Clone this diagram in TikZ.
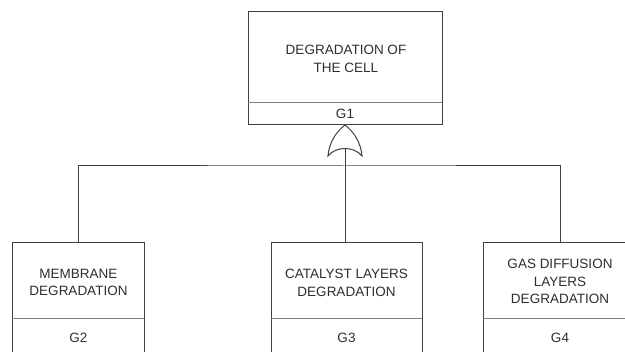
\documentclass[tikz,border=0pt]{standalone}
\usepackage{fontspec}
\setmainfont{Liberation Sans}
\definecolor{linec}{HTML}{404040}
\definecolor{divc}{HTML}{808080}
\definecolor{txtc}{HTML}{2E2E2E}
\begin{document}
\begin{tikzpicture}[x=1pt,y=-1pt,
  box/.style={draw=linec, line width=1pt, inner sep=0pt, outer sep=0pt, fill=none},
  div/.style={draw=divc, line width=0.9pt},
  conn/.style={draw=linec, line width=1pt},
  lbl/.style={text=txtc, font=\fontsize{13.5}{17.8}\selectfont, align=center, inner sep=0pt}]
\useasboundingbox (0,0) rectangle (625,352);
\clip (0,0) rectangle (625,352);
\fill[white] (0,0) rectangle (625,352);

% boxes
\node[box, minimum width=194pt, minimum height=113pt] (top) at (345,68.5) {};
\node[box, minimum width=132pt, minimum height=137pt] (left) at (78,311.5) {};
\node[box, minimum width=151pt, minimum height=137pt] (mid) at (346.5,311.5) {};
\node[box, minimum width=154pt, minimum height=137pt] (right) at (560,311.5) {};

% dividers
\draw[div] (top.south west) ++(0,-23) -- ++(194,0);
\draw[div] (left.north west) ++(0,75.5) -- ++(132,0);
\draw[div] (mid.north west) ++(0,75.5) -- ++(151,0);
\draw[div] (right.north west) ++(0,75.5) -- ++(154,0);

% texts
\node[lbl] (t1) at (346,58.5) {DEGRADATION OF\\THE CELL};
\node[lbl] (g1) at (345,113.5) {G1};
\node[lbl] (t2) at (78.5,282.5) {MEMBRANE\\DEGRADATION};
\node[lbl] (g2) at (78.5,338) {G2};
\node[lbl] (t3) at (346.5,282.5) {CATALYST LAYERS\\DEGRADATION};
\node[lbl] (t3b) at (346.5,338) {G3};
\node[lbl] (t4) at (560,281.5) {GAS DIFFUSION\\LAYERS\\DEGRADATION};
\node[lbl] (g4) at (560,338) {G4};

% OR gate
\coordinate (gapex) at (345,125);
\coordinate (gin) at (345,148);
\draw[conn, line join=miter] (gapex) .. controls (353,131) and (361,142) .. (362,156)
  .. controls (354,146) and (336,146) .. (328,156)
  .. controls (329,142) and (337,131) .. (gapex);

% connectors
\coordinate (bar) at (345,166);
\draw[conn] (gin) -- (gin |- mid.north);
\draw[conn] (left.north) |- (bar) -| (right.north);
\end{tikzpicture}
\end{document}
